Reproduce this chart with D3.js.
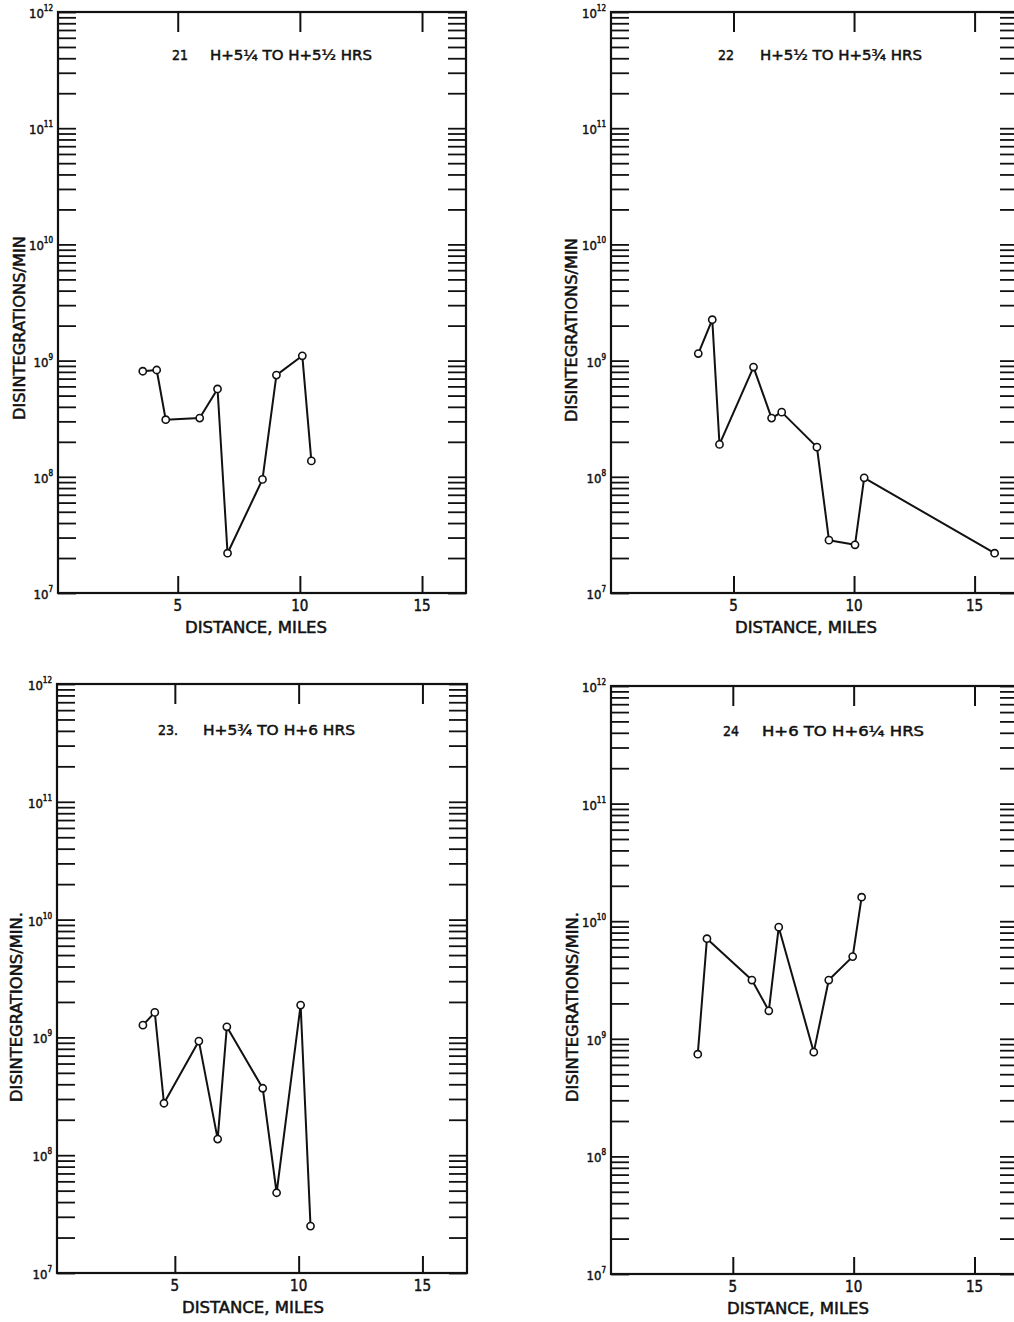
<!DOCTYPE html>
<html>
<head>
<meta charset="utf-8">
<script src="https://cdn.jsdelivr.net/npm/d3@7"></script>
<style>
  html, body { margin: 0; padding: 0; background: #fff; }
  svg { display: block; }
  text { font-family: "DejaVu Sans Condensed", "Liberation Sans Narrow", "Liberation Sans", sans-serif; fill: #111; stroke: #111; stroke-width: 0.45px; }
</style>
</head>
<body>
<svg id="chart" width="1014" height="1322"></svg>
<script>
// ---- Data ----
const panelNumbers = ["21", "22", "23.", "24"];
const panelTitles = ["H+5¼ TO H+5½ HRS", "H+5½ TO H+5¾ HRS", "H+5¾ TO H+6 HRS", "H+6 TO H+6¼ HRS"];
const yAxisTitles = ["DISINTEGRATIONS/MIN", "DISINTEGRATIONS/MIN", "DISINTEGRATIONS/MIN.", "DISINTEGRATIONS/MIN."];
const xAxisTitle = "DISTANCE, MILES";
const xTickValues = [5, 10, 15];
const yDecadeExponents = [7, 8, 9, 10, 11, 12];

const p21Distance = [3.57, 4.14, 4.51, 5.90, 6.63, 7.04, 8.47, 9.04, 10.10, 10.47];
const p21Rate     = [8.1e8, 8.3e8, 3.1e8, 3.2e8, 5.7e8, 2.2e7, 9.5e7, 7.5e8, 1.1e9, 1.37e8];

const p22Distance = [3.54, 4.12, 4.42, 5.83, 6.58, 7.00, 8.46, 8.96, 10.04, 10.42, 15.83];
const p22Rate     = [1.15e9, 2.25e9, 1.9e8, 8.8e8, 3.2e8, 3.6e8, 1.8e8, 2.85e7, 2.6e7, 9.8e7, 2.2e7];

const p23Distance = [3.71, 4.19, 4.56, 5.97, 6.73, 7.10, 8.55, 9.11, 10.08, 10.48];
const p23Rate     = [1.27e9, 1.63e9, 2.76e8, 9.3e8, 1.37e8, 1.23e9, 3.7e8, 4.8e7, 1.88e9, 2.5e7];

const p24Distance = [3.55, 3.93, 5.79, 6.49, 6.90, 8.35, 8.97, 9.96, 10.33];
const p24Rate     = [7.4e8, 7.1e9, 3.16e9, 1.73e9, 8.9e9, 7.7e8, 3.16e9, 5.0e9, 1.6e10];

const seriesX = [p21Distance, p22Distance, p23Distance, p24Distance];
const seriesY = [p21Rate, p22Rate, p23Rate, p24Rate];

// ---- Layout (positions / styles only) ----
const layout = [
  { left: 58,  top: 12,  right: 466,  bottom: 593,  x0: 0.10,  x1: 16.8, numX: 114, titleX: 152, ylabX: 19,  ylabY: 328, xlabX: 256, titleY: 60 },
  { left: 611, top: 12,  right: 1018, bottom: 593,  x0: -0.08, x1: 16.8, numX: 107, titleX: 149, ylabX: 571, ylabY: 330, xlabX: 806, titleY: 60 },
  { left: 57,  top: 684, right: 467,  bottom: 1273, x0: 0.24,  x1: 16.8, numX: 101, titleX: 146, ylabX: 16,  ylabY: 1007, xlabX: 253, titleY: 735 },
  { left: 611, top: 686, right: 1018, bottom: 1274, x0: -0.04, x1: 16.8, numX: 112, titleX: 151, ylabX: 572, ylabY: 1007, xlabX: 798, titleY: 736 }
];

const svg = d3.select("#chart");
const ink = "#111";

layout.forEach((L, i) => {
  const g = svg.append("g");
  const x = d3.scaleLinear().domain([L.x0, L.x1]).range([L.left, L.right]);
  const y = d3.scaleLog().domain([1e7, 1e12]).range([L.bottom, L.top]);

  // minor/major y ticks (log), left and right, pointing inward
  const yTicks = [];
  for (let e = 7; e < 12; e++) for (let k = 1; k <= 9; k++) yTicks.push(k * Math.pow(10, e));
  yTicks.push(1e12);

  const leftAxis = d3.axisRight(y).tickValues(yTicks).tickSize(18).tickFormat("");
  const rightAxis = d3.axisLeft(y).tickValues(yTicks).tickSize(18).tickFormat("");
  const gl = g.append("g").attr("transform", `translate(${L.left},0)`).call(leftAxis);
  const gr = g.append("g").attr("transform", `translate(${L.right},0)`).call(rightAxis);
  [gl, gr].forEach(a => {
    a.select(".domain").remove();
    a.selectAll(".tick line").attr("stroke", ink).attr("stroke-width", 1.8);
  });

  // x ticks top and bottom, inward
  const topAxis = d3.axisBottom(x).tickValues(xTickValues).tickSize(20).tickFormat("");
  const botAxis = d3.axisTop(x).tickValues(xTickValues).tickSize(17).tickFormat("");
  const gt = g.append("g").attr("transform", `translate(0,${L.top})`).call(topAxis);
  const gb = g.append("g").attr("transform", `translate(0,${L.bottom})`).call(botAxis);
  [gt, gb].forEach(a => {
    a.select(".domain").remove();
    a.selectAll(".tick line").attr("stroke", ink).attr("stroke-width", 2);
  });

  // frame
  g.append("rect")
    .attr("x", L.left).attr("y", L.top)
    .attr("width", L.right - L.left).attr("height", L.bottom - L.top)
    .attr("fill", "none").attr("stroke", ink).attr("stroke-width", 2.2);

  // x tick labels
  g.selectAll(".xtl").data(xTickValues).enter().append("text")
    .attr("x", d => x(d)).attr("y", L.bottom + 18)
    .attr("text-anchor", "middle").attr("font-size", 15)
    .text(d => d);

  // y decade labels
  const yl = g.selectAll(".ytl").data(yDecadeExponents).enter().append("text")
    .attr("x", L.left - 5).attr("y", d => y(Math.pow(10, d)) + 6)
    .attr("text-anchor", "end").attr("font-size", 13);
  yl.append("tspan").text("10");
  yl.append("tspan").attr("font-size", 8).attr("dy", -7).text(d => d);

  // axis titles
  g.append("text")
    .attr("transform", `translate(${L.ylabX + 6},${L.ylabY}) rotate(-90)`)
    .attr("text-anchor", "middle").attr("font-size", 15)
    .attr("textLength", i < 2 ? 184 : 190).attr("lengthAdjust", "spacingAndGlyphs")
    .text(yAxisTitles[i]);
  g.append("text")
    .attr("x", L.xlabX).attr("y", L.bottom + 40)
    .attr("text-anchor", "middle").attr("font-size", 15)
    .attr("textLength", 142).attr("lengthAdjust", "spacingAndGlyphs")
    .text(xAxisTitle);

  // panel title
  g.append("text")
    .attr("x", L.left + L.numX).attr("y", L.titleY)
    .attr("font-size", 14).text(panelNumbers[i]);
  g.append("text")
    .attr("x", L.left + L.titleX).attr("y", L.titleY)
    .attr("font-size", 14)
    .attr("textLength", i === 2 ? 152 : 162).attr("lengthAdjust", "spacingAndGlyphs")
    .text(panelTitles[i]);

  // data
  const pts = seriesX[i].map((d, j) => [d, seriesY[i][j]]);
  const line = d3.line().x(d => x(d[0])).y(d => y(d[1]));
  g.append("path").datum(pts)
    .attr("d", line).attr("fill", "none")
    .attr("stroke", ink).attr("stroke-width", 2).attr("stroke-linejoin", "round");
  g.selectAll(".pt").data(pts).enter().append("circle")
    .attr("cx", d => x(d[0])).attr("cy", d => y(d[1]))
    .attr("r", 3.6).attr("fill", "#fff").attr("stroke", ink).attr("stroke-width", 1.6);
});
</script>
</body>
</html>
